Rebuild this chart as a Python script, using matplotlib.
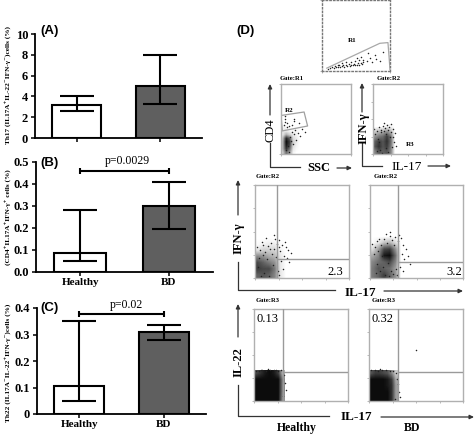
import matplotlib
matplotlib.use("Agg")
from matplotlib import pyplot as plt

W, H = 474, 434

# bar data
groupes = ["Healthy", "BD"]
a_moy = [3.2, 5.0]
a_haut = [4.0, 8.0]
a_bas = [2.6, 3.3]
b_moy = [0.085, 0.30]
b_haut = [0.283, 0.41]
b_bas = [0.05, 0.195]
c_moy = [0.105, 0.31]
c_haut = [0.35, 0.335]
c_bas = [0.05, 0.28]

a_ticks = [0, 2, 4, 6, 8, 10]
b_ticks = [0.0, 0.1, 0.2, 0.3, 0.4, 0.5]
c_ticks = [0, 0.1, 0.2, 0.3, 0.4]
c_labels = ["0", "0.1", "0.2", "0.3", "0.4"]

# dot density (rows go bottom to top)
d_cd4 = [[.2, .6, .4, .05, 0, 0],
         [.3, .85, .6, .1, .03, 0],
         [.3, .95, .75, .15, .05, 0],
         [.3, 1, .8, .2, .08, 0],
         [.25, .9, .65, .15, .08, 0],
         [.1, .35, .2, .1, .05, 0],
         [.1, .1, .05, .05, .05, 0],
         [.05, .05, 0, 0, 0, 0]]
d_r3 = [[.5, .7, .65, .7, .5, 0],
        [.7, .85, .7, .8, .55, 0],
        [.65, .8, .7, .85, .6, 0],
        [.45, .55, .6, .8, .55, 0],
        [.2, .3, .35, .45, .3, 0],
        [0, 0, 0, .05, .05, 0]]
d_h1 = [[.65, .7, .65, .5, .1, 0],
        [.8, .75, .75, .55, .1, 0],
        [.75, .65, .55, .45, .1, 0],
        [.5, .45, .35, .3, .1, 0],
        [.12, .2, .2, .18, .05, 0],
        [.02, .05, .08, .08, .02, 0],
        [0, 0, 0, 0, 0, 0]]
d_h2 = [[.55, .65, .8, .65, .45, 0],
        [.55, .7, .65, .6, .4, 0],
        [.5, .6, .65, .75, .5, 0],
        [.35, .5, .95, 1, .6, 0],
        [.15, .4, .75, .8, .45, 0],
        [.02, .1, .25, .3, .15, 0],
        [0, 0, 0, 0, 0, 0]]
d_i1 = [[1, 1, 1, 1, 1, 1, .45],
        [1, 1, 1, 1, 1, 1, .5],
        [1, 1, 1, 1, 1, 1, .5],
        [1, 1, 1, 1, 1, 1, .5],
        [.75, .85, .95, 1, .95, .8, .3]]
d_i2 = [[1, 1, 1, 1, 1, .85, .4],
        [1, 1, 1, 1, 1, .85, .4],
        [1, 1, 1, 1, .95, .85, .4],
        [1, 1, 1, 1, .95, .8, .35],
        [.7, .8, .8, .75, .7, .5, .2]]

# scattered dots
top_x = [.09, .12, .15, .17, .19, .21, .23, .25, .27, .29, .31, .33, .35, .37, .39, .41, .43, .45, .47, .49, .51,
         .53, .55, .57, .59, .61, .24, .3, .36, .42, .48, .54, .6, .66, .7, .74, .8, .58, .52, .68, .78, .86, .9]
top_y = [.03, .04, .05, .04, .07, .05, .06, .08, .05, .07, .09, .06, .08, .07, .1, .07, .09, .08, .1, .09, .08,
         .11, .09, .11, .1, .12, .09, .11, .12, .13, .14, .15, .16, .14, .19, .12, .17, .2, .18, .26, .22, .14, .27]
cd4_x = [.06, .09, .04, .12, .15, .18, .2, .24, .1, .14, .07, .11, .22, .27, .16, .05, .19, .3, .13, .34, .08,
         .17, .26, .06, .18]
cd4_y = [.46, .44, .41, .4, .32, .28, .35, .3, .12, .18, .06, .03, .2, .26, .42, .5, .47, .36, .24, .32, .38,
         .14, .44, .54, .5]
r3_x = [.02, .05, .08, .11, .14, .17, .2, .23, .26, .29, .31, .03, .07, .12, .16, .21, .25, .28, .3, .33, .15,
        .19, .24, .27, .1, .13, .06, .22, .18, .09]
r3_y = [.36, .33, .38, .35, .4, .37, .41, .39, .43, .36, .3, .28, .22, .31, .33, .34, .32, .25, .17, .12, .44,
        .29, .24, .1, .06, .02, .04, .03, .08, .17]
h1_x = [.02, .05, .08, .11, .14, .17, .2, .23, .26, .29, .32, .35, .38, .04, .09, .13, .18, .22, .27, .31, .34,
        .07, .12, .16, .21, .25, .28, .33, .36, .19, .1, .15, .24, .3, .03, .06, .26, .2]
h1_y = [.33, .3, .36, .28, .34, .38, .31, .37, .41, .35, .39, .3, .27, .22, .25, .2, .26, .23, .29, .24, .21,
        .39, .43, .31, .42, .33, .18, .33, .17, .14, .05, .02, .07, .1, .12, .02, .03, .46]
h2_x = [.02, .05, .08, .12, .15, .18, .21, .24, .27, .3, .33, .36, .39, .04, .09, .13, .17, .22, .26, .31, .34,
        .07, .11, .16, .2, .25, .28, .32, .37, .14, .19, .23, .29, .35, .41, .43, .06, .1]
h2_y = [.37, .33, .4, .36, .42, .38, .45, .41, .44, .4, .43, .35, .31, .26, .29, .24, .47, .49, .36, .46, .26,
        .15, .08, .03, .02, .04, .1, .12, .2, .12, .16, .07, .03, .07, .24, .15, .05, .42]
i1_x = [.02, .05, .09, .13, .17, .21, .25, .29, .32, .33, .34, .31, .07, .15, .23]
i1_y = [.33, .325, .335, .33, .34, .335, .33, .34, .28, .2, .12, .05, .34, .345, .34]
i2_x = [.02, .06, .1, .14, .18, .22, .26, .29, .3, .31, .32, .33, .28, .12, .5]
i2_y = [.335, .34, .33, .34, .335, .33, .325, .3, .24, .18, .1, .04, .02, .345, .55]

# gates
gate_r1_x = [0.07, 0.85, 0.97, 1.0]
gate_r1_y = [0.04, 0.39, 0.40, 0.02]
gate_r2_x = [0.0, 0.33, 0.38, 0.02, 0.0]
gate_r2_y = [0.55, 0.60, 0.40, 0.33, 0.55]


def axe_px(g, h, d, b):
    return plt.axes([g / W, 1 - b / H, (d - g) / W, (b - h) / H])


def barres(boite, moy, haut, bas, ymax, ticks, labels=None, noms=False):
    ax = axe_px(*boite)
    ax.patch.set_alpha(0)
    x = [0, 1]
    ax.bar(x, moy, 0.59, color=["white", "#5f5f5f"], edgecolor="black", linewidth=1.5)
    ax.errorbar(x, moy, yerr=[[m - l for m, l in zip(moy, bas)], [u - m for m, u in zip(moy, haut)]],
                fmt="none", ecolor="black", elinewidth=1.5, capsize=12, capthick=1.5)
    ax.set_xlim(-0.5, 1.5)
    ax.set_ylim(0, ymax)
    ax.set_yticks(ticks)
    if labels is not None:
        ax.set_yticklabels(labels)
    ax.set_xticks(x)
    ax.set_xticklabels(groupes if noms else ["", ""])
    ax.spines["top"].set_visible(False)
    ax.spines["right"].set_visible(False)
    ax.spines["left"].set_linewidth(1.3)
    ax.spines["bottom"].set_linewidth(1.3)
    ax.tick_params(length=3, width=1.1, pad=2, labelsize=9)
    for t in ax.get_xticklabels() + ax.get_yticklabels():
        t.set_family("Liberation Serif")
        t.set_weight("bold")
    ax.xaxis.set_tick_params(labelsize=8, pad=1)
    return ax


def flow(boite, dens=None, zone=None, dots=None, v=None, h=None, ticks=True):
    ax = axe_px(*boite)
    if dens is not None:
        ax.imshow(dens, origin="lower", extent=zone, cmap="gray_r", vmin=0, vmax=1.05,
                  interpolation="bilinear", aspect="auto", zorder=1)
    if dots is not None:
        ax.scatter(dots[0], dots[1], s=1.2, color="#222222", linewidths=0, zorder=2)
    ax.set_xlim(0, 1)
    ax.set_ylim(0, 1)
    for s in ax.spines.values():
        s.set_color("#b0b0b0")
        s.set_linewidth(1.0)
    if ticks:
        ax.set_xticks([0, .25, .5, .75, 1])
        ax.set_yticks([0, .25, .5, .75, 1])
    else:
        ax.set_xticks([0, 1])
        ax.set_yticks([0, 1])
    ax.tick_params(length=1.5, width=0.6, color="#b0b0b0", labelbottom=False, labelleft=False)
    if v is not None:
        ax.plot([v, v], [0, 1], color="#9a9a9a", lw=1.0, zorder=3)
        ax.plot([v, 1], [h, h], color="#9a9a9a", lw=1.0, zorder=3)
    return ax


fig = plt.figure(figsize=(W / 100, H / 100), dpi=100)
SERIF = ["Liberation Serif", "DejaVu Serif"]

# panels A, B, C
barres((35, 34, 202, 138), a_moy, a_haut, a_bas, 10, a_ticks)
ax_b = barres((36, 162, 213, 272), b_moy, b_haut, b_bas, 0.5, b_ticks, noms=True)
ax_b.errorbar([0.5], [0.46], xerr=[0.5], fmt="none", ecolor="black", elinewidth=1.5, capsize=2.5, capthick=1.5,
              clip_on=False)
ax_c = barres((37, 308, 206, 414), c_moy, c_haut, c_bas, 0.4, c_ticks, labels=c_labels, noms=True)
ax_c.errorbar([0.5], [0.377], xerr=[0.5], fmt="none", ecolor="black", elinewidth=1.5, capsize=2.5, capthick=1.5,
              clip_on=False)

# panel D
top = flow((322, 0, 390, 71), dots=(top_x, top_y), ticks=False)
top.plot(gate_r1_x, gate_r1_y, color="#a8a8a8", lw=0.9)
for s in top.spines.values():
    s.set_linestyle(":")
    s.set_color("#777777")
cd4 = flow((281, 84, 351, 154), d_cd4, (0.0, 0.3, 0.0, 0.4), dots=(cd4_x, cd4_y), ticks=False)
cd4.plot(gate_r2_x, gate_r2_y, color="#a0a0a0", lw=0.9)
flow((373, 84, 443, 154), d_r3, (0.0, 0.34, 0.0, 0.42), dots=(r3_x, r3_y))
flow((255, 185, 349, 278), d_h1, (0.0, 0.36, 0.0, 0.46), dots=(h1_x, h1_y), v=0.23, h=0.20)
flow((370, 185, 463, 278), d_h2, (0.0, 0.36, 0.0, 0.48), dots=(h2_x, h2_y), v=0.30, h=0.17)
flow((254, 309, 348, 401), d_i1, (0.0, 0.32, 0.0, 0.33), dots=(i1_x, i1_y), v=0.31, h=0.315)
flow((369, 309, 463, 401), d_i2, (0.0, 0.30, 0.0, 0.33), dots=(i2_x, i2_y), v=0.31, h=0.315)

# text and arrows, in pixels
ov = fig.add_axes([0, 0, 1, 1])
ov.set_xlim(0, W)
ov.set_ylim(H, 0)
ov.axis("off")
ov.patch.set_alpha(0)


def txt(x, y, s, size=9, rot=0, fam=SERIF, weight="bold"):
    ov.text(x, y, s, fontsize=size, rotation=rot, family=fam, weight=weight, ha="center", va="center")


def fleche(x0, y0, x1, y1):
    ov.annotate("", xy=(x1, y1), xytext=(x0, y0),
                arrowprops=dict(arrowstyle="-|>,head_width=0.12,head_length=0.25", color="#333333", lw=0.9,
                                shrinkA=0, shrinkB=0))


def trait(xs, ys):
    ov.plot(xs, ys, color="#333333", lw=0.9)


for x, y, s in [(50, 31, "(A)"), (50, 163, "(B)"), (50, 308, "(C)"), (246, 31, "(D)")]:
    txt(x, y, s, size=9.5, fam="Liberation Sans")

txt(127, 161, "p=0.0029", size=8.5, weight="normal")
txt(126, 305, "p=0.02", size=8.5, weight="normal")
txt(8, 85, "Th17 (IL17A⁺IL-22⁻IFN-γ⁻)cells (%)", size=5.2, rot=90)
txt(8, 217, "(CD4⁺IL17A⁺IFN-γ⁺ cells (%)", size=5.2, rot=90)
txt(8, 363, "Th22 (IL17A⁻IL-22⁺IFN-γ⁻)cells (%)", size=5.2, rot=90)

txt(352, 41, "R1", size=5)
txt(289, 111, "R2", size=5)
txt(410, 144, "R3", size=5)
for x, y, s in [(292, 78, "Gate:R1"), (389, 78, "Gate:R2"), (268, 177, "Gate:R2"), (386, 177, "Gate:R2"),
                (268, 300, "Gate:R3"), (384, 300, "Gate:R3")]:
    txt(x, y, s, size=4.8)

txt(335, 272, "2.3", size=9, weight="normal")
txt(454, 272, "3.2", size=9, weight="normal")
txt(268, 319, "0.13", size=9, weight="normal")
txt(383, 319, "0.32", size=9, weight="normal")

txt(271, 130, "CD4", size=9, rot=90, weight="normal")
txt(319, 168, "SSC", size=9)
txt(364, 128, "IFN-γ", size=9, rot=90)
txt(407, 167, "IL-17", size=9.5, weight="normal")
txt(239, 238, "IFN-γ", size=9, rot=90)
txt(360, 293, "IL-17", size=9.5)
txt(239, 362, "IL-22", size=9, rot=90)
txt(356, 417, "IL-17", size=9.5)
txt(297, 428, "Healthy", size=8.5)
txt(412, 428, "BD", size=8.5)

fleche(270, 115, 270, 84)
trait([270, 270, 300], [143, 167, 167])
fleche(337, 168, 352, 168)
fleche(362, 112, 362, 83)
trait([362, 362, 382], [143, 166, 166])
fleche(428, 166, 451, 166)
fleche(238, 215, 238, 180)
trait([238, 238, 335], [262, 290, 290])
fleche(384, 291, 463, 291)
fleche(238, 337, 238, 304)
trait([238, 238, 329], [385, 416, 416])
fleche(381, 417, 474, 417)

fig.savefig("out.png", dpi=100)
